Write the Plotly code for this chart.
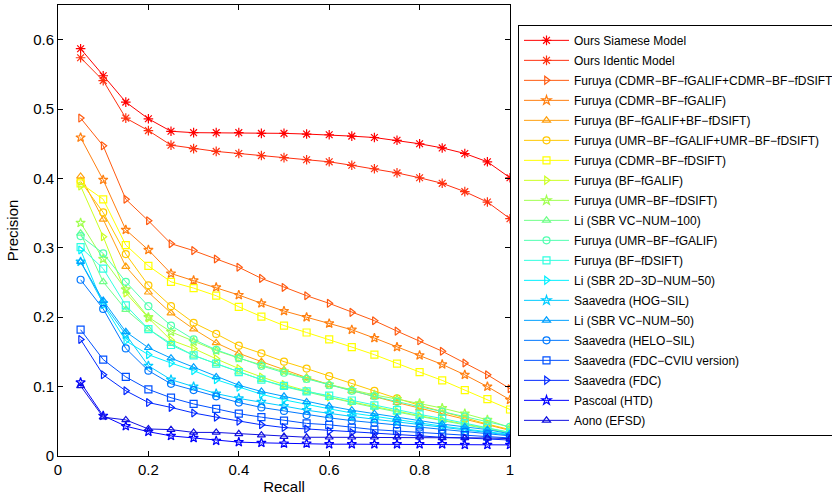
import plotly.graph_objects as go

recall = [0.05, 0.10, 0.15, 0.20, 0.25, 0.30, 0.35, 0.40, 0.45, 0.50,
          0.55, 0.60, 0.65, 0.70, 0.75, 0.80, 0.85, 0.90, 0.95, 1.00]

M = "\u2212"
names = [
    "Ours Siamese Model",
    "Ours Identic Model",
    f"Furuya (CDMR{M}BF{M}fGALIF+CDMR{M}BF{M}fDSIFT)",
    f"Furuya (CDMR{M}BF{M}fGALIF)",
    f"Furuya (BF{M}fGALIF+BF{M}fDSIFT)",
    f"Furuya (UMR{M}BF{M}fGALIF+UMR{M}BF{M}fDSIFT)",
    f"Furuya (CDMR{M}BF{M}fDSIFT)",
    f"Furuya (BF{M}fGALIF)",
    f"Furuya (UMR{M}BF{M}fDSIFT)",
    f"Li (SBR VC{M}NUM{M}100)",
    f"Furuya (UMR{M}BF{M}fGALIF)",
    f"Furuya (BF{M}fDSIFT)",
    f"Li (SBR 2D{M}3D{M}NUM{M}50)",
    f"Saavedra (HOG{M}SIL)",
    f"Li (SBR VC{M}NUM{M}50)",
    f"Saavedra (HELO{M}SIL)",
    f"Saavedra (FDC{M}CVIU version)",
    "Saavedra (FDC)",
    "Pascoal (HTD)",
    "Aono (EFSD)",
]

ours_siamese = [0.587, 0.548, 0.510, 0.486, 0.468, 0.466, 0.466, 0.466, 0.465, 0.465,
                0.464, 0.463, 0.461, 0.459, 0.455, 0.450, 0.444, 0.436, 0.424, 0.401]
ours_identic = [0.574, 0.541, 0.487, 0.469, 0.448, 0.443, 0.439, 0.436, 0.433, 0.430,
                0.427, 0.424, 0.419, 0.414, 0.408, 0.401, 0.393, 0.381, 0.366, 0.342]
furuya_cdmr_galif_dsift = [0.487, 0.447, 0.370, 0.339, 0.306, 0.296, 0.284, 0.272, 0.256, 0.243,
                           0.231, 0.220, 0.207, 0.195, 0.180, 0.166, 0.151, 0.134, 0.117, 0.097]
furuya_cdmr_galif = [0.459, 0.398, 0.326, 0.297, 0.263, 0.253, 0.243, 0.232, 0.220, 0.209,
                     0.200, 0.191, 0.182, 0.170, 0.157, 0.145, 0.132, 0.117, 0.100, 0.081]
furuya_bf_galif_dsift = [0.403, 0.341, 0.273, 0.236, 0.206, 0.183, 0.163, 0.148, 0.136, 0.124,
                         0.113, 0.103, 0.094, 0.085, 0.077, 0.069, 0.061, 0.053, 0.045, 0.037]
furuya_umr_galif_dsift = [0.396, 0.351, 0.291, 0.246, 0.216, 0.192, 0.176, 0.159, 0.148, 0.136,
                          0.126, 0.115, 0.105, 0.094, 0.083, 0.073, 0.064, 0.054, 0.046, 0.038]
furuya_cdmr_dsift = [0.393, 0.370, 0.304, 0.274, 0.251, 0.242, 0.231, 0.215, 0.201, 0.188,
                     0.178, 0.168, 0.157, 0.146, 0.133, 0.121, 0.109, 0.095, 0.082, 0.067]
furuya_bf_galif = [0.389, 0.316, 0.235, 0.199, 0.167, 0.155, 0.140, 0.126, 0.114, 0.103,
                   0.094, 0.085, 0.078, 0.071, 0.064, 0.058, 0.052, 0.046, 0.040, 0.034]
furuya_umr_dsift = [0.336, 0.284, 0.240, 0.200, 0.179, 0.165, 0.152, 0.141, 0.131, 0.122,
                    0.112, 0.103, 0.095, 0.088, 0.082, 0.076, 0.069, 0.061, 0.052, 0.041]
li_vc_num_100 = [0.321, 0.251, 0.211, 0.183, 0.162, 0.145, 0.133, 0.121, 0.110, 0.100,
                 0.092, 0.084, 0.077, 0.070, 0.063, 0.057, 0.051, 0.045, 0.039, 0.033]
furuya_umr_galif = [0.317, 0.292, 0.251, 0.216, 0.188, 0.168, 0.153, 0.141, 0.130, 0.120,
                    0.111, 0.102, 0.094, 0.086, 0.078, 0.071, 0.064, 0.057, 0.050, 0.042]
furuya_bf_dsift = [0.301, 0.270, 0.217, 0.183, 0.160, 0.145, 0.133, 0.121, 0.110, 0.101,
                   0.093, 0.087, 0.080, 0.073, 0.066, 0.060, 0.054, 0.047, 0.041, 0.034]
li_2d3d_num_50 = [0.297, 0.218, 0.166, 0.146, 0.134, 0.123, 0.110, 0.099, 0.089, 0.081,
                  0.074, 0.068, 0.062, 0.057, 0.052, 0.047, 0.043, 0.039, 0.035, 0.031]
saavedra_hog_sil = [0.280, 0.220, 0.175, 0.130, 0.110, 0.100, 0.090, 0.083, 0.078, 0.072,
                    0.066, 0.061, 0.057, 0.053, 0.049, 0.045, 0.041, 0.038, 0.034, 0.030]
li_vc_num_50 = [0.280, 0.224, 0.179, 0.156, 0.141, 0.128, 0.114, 0.102, 0.093, 0.086,
                0.078, 0.072, 0.066, 0.061, 0.055, 0.050, 0.046, 0.042, 0.038, 0.032]
saavedra_helo_sil = [0.254, 0.212, 0.155, 0.123, 0.104, 0.095, 0.086, 0.077, 0.070, 0.065,
                     0.059, 0.055, 0.051, 0.048, 0.045, 0.041, 0.038, 0.035, 0.032, 0.029]
saavedra_fdc_cviu = [0.182, 0.139, 0.114, 0.096, 0.084, 0.075, 0.068, 0.061, 0.056, 0.051,
                     0.047, 0.045, 0.041, 0.038, 0.036, 0.034, 0.032, 0.030, 0.028, 0.026]
saavedra_fdc = [0.168, 0.117, 0.094, 0.077, 0.070, 0.062, 0.056, 0.050, 0.045, 0.041,
                0.039, 0.036, 0.034, 0.032, 0.030, 0.029, 0.027, 0.026, 0.025, 0.023]
pascoal_htd = [0.106, 0.058, 0.043, 0.035, 0.029, 0.026, 0.022, 0.020, 0.019, 0.018,
               0.018, 0.017, 0.017, 0.017, 0.017, 0.017, 0.017, 0.016, 0.016, 0.016]
aono_efsd = [0.101, 0.056, 0.052, 0.039, 0.038, 0.034, 0.034, 0.032, 0.030, 0.028,
             0.027, 0.027, 0.027, 0.027, 0.027, 0.027, 0.026, 0.026, 0.026, 0.025]

series = [ours_siamese, ours_identic, furuya_cdmr_galif_dsift, furuya_cdmr_galif,
          furuya_bf_galif_dsift, furuya_umr_galif_dsift, furuya_cdmr_dsift, furuya_bf_galif,
          furuya_umr_dsift, li_vc_num_100, furuya_umr_galif, furuya_bf_dsift, li_2d3d_num_50,
          saavedra_hog_sil, li_vc_num_50, saavedra_helo_sil, saavedra_fdc_cviu, saavedra_fdc,
          pascoal_htd, aono_efsd]

colors = ["#ff0000", "#ff3010", "#ff5a10", "#ff7f10", "#ffa010", "#ffc800", "#ffff00",
          "#ccff22", "#a0ff50", "#70ff88", "#50ffb0", "#30ffe0", "#00f0ff", "#00ccff",
          "#00a0ff", "#0078ff", "#0050ff", "#0028ff", "#0000ff", "#1010e0"]

cycle = ["triangle-right-open", "star-open", "triangle-up-open", "circle-open", "square-open"]
symbols = ["asterisk-open", "asterisk-open"] + [cycle[i % 5] for i in range(18)]

fig = go.Figure()
for i, (name, vals, col, sym) in enumerate(zip(names, series, colors, symbols)):
    fig.add_trace(go.Scatter(
        x=recall, y=vals, name=name, mode="lines+markers", legendgroup=f"g{i}",
        line=dict(color=col, width=1),
        marker=dict(symbol=sym, size=8 if sym.startswith("asterisk") else 7,
                    color=col, line=dict(color=col, width=1.2)),
    ))

axis_common = dict(showline=True, linecolor="black", linewidth=1, mirror="ticks",
                   ticks="inside", ticklen=5, tickcolor="black", showgrid=False,
                   zeroline=False, tickfont=dict(size=15, color="black"))

fig.update_layout(
    width=832, height=495,
    margin=dict(l=58, r=322, t=5, b=39, autoexpand=False),
    paper_bgcolor="white", plot_bgcolor="white",
    font=dict(family="Liberation Sans, Arial, sans-serif", color="black"),
    xaxis=dict(range=[0, 1], tickvals=[0, 0.2, 0.4, 0.6, 0.8, 1],
               title=dict(text="Recall", font=dict(size=15), standoff=4), **axis_common),
    yaxis=dict(range=[0, 0.65], tickvals=[0, 0.1, 0.2, 0.3, 0.4, 0.5, 0.6],
               title=dict(text="Precision", font=dict(size=15), standoff=10), **axis_common),
    legend=dict(x=1.0177, y=0.956, xanchor="left", yanchor="top", itemwidth=45,
                bgcolor="white", bordercolor="black", borderwidth=1,
                font=dict(size=12, color="black"), tracegroupgap=1),
    showlegend=True,
)

fig.write_html("out.html")
